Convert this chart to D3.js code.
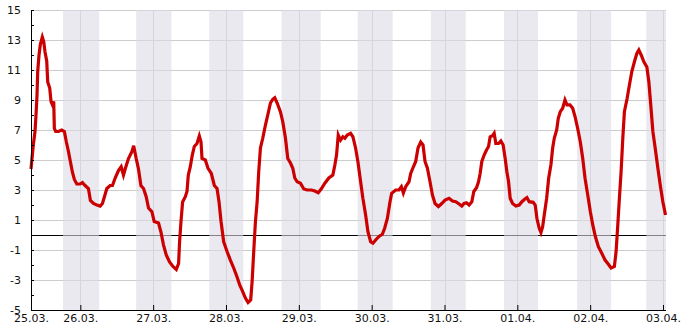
<!doctype html>
<html>
<head>
<meta charset="utf-8">
<title>Temperatur</title>
<script src="https://cdn.jsdelivr.net/npm/d3@7"></script>
<style>
  body { margin: 0; background: #fff; }
  text { font-family: "DejaVu Sans", sans-serif; }
</style>
</head>
<body>
<svg width="685" height="330"></svg>
<script>
// hours since 25.03. 00:00
var hours = [7.75,7.98,8.51,9.07,9.40,9.73,9.96,10.39,10.82,11.48,11.94,12.37,12.93,13.26,13.92,14.35,14.78,15.24,15.44,15.90,
  16.76,17.88,18.74,19.40,20.06,20.72,21.38,22.04,22.84,23.93,24.68,25.58,26.67,27.33,28.32,29.44,30.53,31.29,31.95,32.74,
  33.83,34.59,35.48,36.57,37.46,38.22,38.78,39.87,40.99,41.59,42.41,43.17,43.96,44.82,45.71,46.47,47.59,48.35,49.77,50.57,
  51.42,52.31,53.40,54.53,55.62,56.38,56.71,57.17,57.70,58.59,59.15,59.58,60.24,60.90,61.56,62.45,63.21,63.77,64.10,65.19,
  66.08,67.17,68.16,69.05,69.71,70.37,71.23,72.35,73.44,74.53,75.65,76.51,77.30,78.39,79.28,80.14,80.61,81.14,81.70,82.26,
  82.78,83.35,84.11,85.00,85.76,86.65,87.41,88.07,88.86,89.95,90.71,91.60,92.36,93.25,94.01,94.67,95.46,96.55,97.64,98.76,
  100.18,101.27,102.39,103.48,104.57,105.89,107.21,107.87,108.43,108.99,109.75,110.51,111.17,111.96,113.05,113.81,114.70,115.46,116.36,117.11,
  118.01,118.77,119.66,120.42,121.31,122.40,123.52,124.28,125.17,126.03,126.59,127.91,129.00,129.79,130.45,131.21,132.30,132.86,133.75,134.51,
  135.27,136.16,136.92,137.58,138.37,139.23,140.02,140.88,142.00,143.09,144.18,145.50,146.63,147.72,148.81,149.70,150.46,151.25,152.11,153.00,
  153.66,154.55,155.21,155.74,156.30,157.06,157.85,158.51,159.04,159.83,160.36,160.92,161.81,162.57,163.33,163.99,164.55,165.11,165.64,166.43,
  167.52,168.61,169.50,170.49,171.16,171.91,173.23,173.89,174.46,175.21,175.78,176.34,176.87,177.66,178.32,179.08,179.64,180.17,180.96,181.49,
  182.15,182.94,183.70,184.36,185.35,186.24,187.00,187.89,188.75,189.55,190.31,191.20,192.06,192.85,193.71,194.70,195.82,196.91,198.00,198.89,
  199.98,200.54,201.10,201.63,202.19,202.75,203.28,204.17,204.93,205.72,206.58,207.38,208.04,208.80,209.69,210.68,211.34,211.87,212.66,213.42,
  214.31,215.17,215.96,216.82];
var temps = [4.4,4.9,6.0,6.9,8.0,9.3,10.9,12.0,12.7,13.2,12.9,12.2,11.6,10.2,9.8,8.9,8.7,8.9,7.1,6.9,
  6.9,7.0,6.9,6.2,5.6,4.9,4.2,3.7,3.4,3.4,3.5,3.3,3.1,2.3,2.1,2.0,1.93,2.1,2.55,3.1,
  3.3,3.3,3.8,4.3,4.55,4.0,4.4,5.1,5.55,5.95,5.1,4.4,3.3,3.1,2.55,1.8,1.55,0.9,0.8,0.2,
  -0.67,-1.33,-1.8,-2.1,-2.3,-1.9,-0.45,0.9,2.2,2.55,2.9,4.0,4.55,5.33,5.9,6.1,6.6,6.2,5.1,5.0,
  4.45,4.1,3.3,3.1,2.2,0.9,-0.45,-1.1,-1.67,-2.2,-2.8,-3.33,-3.67,-4.2,-4.5,-4.33,-3.1,-1.1,0.9,2.2,
  4.2,5.8,6.45,7.33,8.0,8.8,9.05,9.15,8.8,8.2,7.55,6.45,5.1,4.8,4.45,3.8,3.55,3.45,3.07,3.0,
  3.0,2.93,2.82,3.1,3.45,3.8,4.0,4.67,5.33,6.67,6.33,6.55,6.45,6.67,6.78,6.55,5.8,4.9,3.55,2.45,
  1.33,0.22,-0.45,-0.55,-0.33,-0.1,0.05,0.45,1.1,2.2,2.78,3.0,3.0,3.22,2.8,3.22,3.55,4.1,4.55,4.9,
  5.8,6.2,6.0,4.9,4.45,3.55,2.67,2.1,1.9,2.1,2.33,2.45,2.27,2.22,2.07,1.93,2.1,2.15,2.0,2.22,
  2.9,3.15,3.55,4.1,4.9,5.33,5.67,5.9,6.55,6.62,6.78,6.1,6.1,6.27,6.0,5.1,4.22,3.55,2.45,2.1,
  1.93,2.0,2.22,2.4,2.49,2.22,2.18,2.0,1.1,0.45,0.16,0.56,1.33,2.45,3.78,4.7,5.8,6.45,7.0,7.78,
  8.22,8.45,9.0,8.67,8.67,8.45,7.9,7.1,6.2,5.1,3.78,2.67,1.55,0.67,-0.1,-0.78,-1.22,-1.67,-1.95,-2.2,
  -2.1,-1.1,0.67,2.45,4.22,6.45,8.22,9.1,10.0,10.9,11.55,12.1,12.33,12.0,11.55,11.2,10.2,8.9,6.9,5.8,
  4.45,3.22,2.2,1.33];

// night periods (hours since 25.03. 00:00)
var nightStart = [18.3, 42.4, 66.5, 90.3, 115.4, 139.5, 163.6, 187.7, 210.5];
var nightEnd   = [30.2, 54.0, 77.7, 103.2, 126.9, 151.0, 174.8, 198.9, 222.0];

// x tick positions (hours) and labels
var xTickHours  = [7.75, 24, 48, 72, 96, 120, 144, 168, 192, 216];
var xTickLabels = ["25.03.","26.03.","27.03.","28.03.","29.03.","30.03.","31.03.","01.04.","02.04.","03.04."];
var yTicks = d3.range(-5, 16, 1);
var yGrid  = [-5, -3, -1, 1, 3, 5, 7, 9, 11, 13, 15];

var t0 = Date.UTC(2015, 2, 25);
function toDate(h) { return new Date(t0 + h * 3600e3); }

var svg = d3.select("svg"),
    margin = {top: 10, right: 20, bottom: 20, left: 31},
    width = 685 - margin.left - margin.right,
    height = 330 - margin.top - margin.bottom;

var data = hours.map(function (h, i) { return {t: toDate(h), v: temps[i]}; });

var x = d3.scaleUtc()
    .domain([toDate(hours[0]), toDate(hours[hours.length - 1])])
    .range([0, width + 0.5]);
var y = d3.scaleLinear().domain([-5, 15]).range([height, 0]);

var g = svg.append("g").attr("transform", "translate(" + margin.left + "," + margin.top + ")");

//横向网格
g.append("g").selectAll("line").data(yGrid).enter().append("line")
    .attr("x1", 0).attr("x2", width + 1)
    .attr("y1", function (d) { return Math.round(y(d)) + 0.5; })
    .attr("y2", function (d) { return Math.round(y(d)) + 0.5; })
    .attr("stroke", "#cccccc").attr("stroke-width", 1);

//纵向网格
g.append("g").selectAll("line").data(xTickHours.slice(1)).enter().append("line")
    .attr("x1", function (d) { return Math.round(x(toDate(d))) + 0.5; })
    .attr("x2", function (d) { return Math.round(x(toDate(d))) + 0.5; })
    .attr("y1", 0).attr("y2", height)
    .attr("stroke", "#cccccc").attr("stroke-width", 1);

//零线
g.append("line")
    .attr("x1", 0).attr("x2", width + 1)
    .attr("y1", Math.round(y(0)) + 0.5).attr("y2", Math.round(y(0)) + 0.5)
    .attr("stroke", "#000").attr("stroke-width", 1);

//夜间
g.append("g").selectAll("rect").data(nightStart).enter().append("rect")
    .attr("x", function (d) { return x(toDate(d)); })
    .attr("width", function (d, i) {
        return Math.min(x(toDate(nightEnd[i])), width + 1) - x(toDate(d));
    })
    .attr("y", 0).attr("height", height)
    .attr("fill", "rgb(218,219,228)").attr("fill-opacity", 0.6);

//温度线
g.append("path")
    .datum(data)
    .attr("fill", "none")
    .attr("stroke", "#cc0000")
    .attr("stroke-width", 3.2)
    .attr("stroke-linejoin", "miter")
    .attr("d", d3.line()
        .x(function (d) { return x(d.t); })
        .y(function (d) { return y(d.v); }));

//坐标轴
var yAxis = d3.axisLeft(y)
    .tickValues(yTicks)
    .tickSize(-3)
    .tickPadding(10)
    .tickFormat(function (d) { return yGrid.indexOf(d) >= 0 ? d : ""; });
var ya = g.append("g").call(yAxis);
ya.select(".domain").remove();
ya.selectAll("line").attr("stroke", "#000");
ya.selectAll("text").attr("font-size", 11).attr("fill", "#111").attr("font-family", "DejaVu Sans");

var xAxis = d3.axisBottom(x)
    .tickValues(xTickHours.map(toDate))
    .tickSize(-5)
    .tickPadding(4)
    .tickFormat(function (d, i) { return xTickLabels[i]; });
var xa = g.append("g").attr("transform", "translate(0," + height + ")").call(xAxis);
xa.select(".domain").remove();
xa.selectAll("line").attr("stroke", "#000");
xa.selectAll("text").attr("font-size", 11).attr("fill", "#111").attr("font-family", "DejaVu Sans");

g.append("line").attr("x1", 0.5).attr("x2", 0.5).attr("y1", 0).attr("y2", height + 0.5)
    .attr("stroke", "#000");
g.append("line").attr("x1", 0).attr("x2", width + 1).attr("y1", height + 0.5).attr("y2", height + 0.5)
    .attr("stroke", "#000");
</script>
</body>
</html>
